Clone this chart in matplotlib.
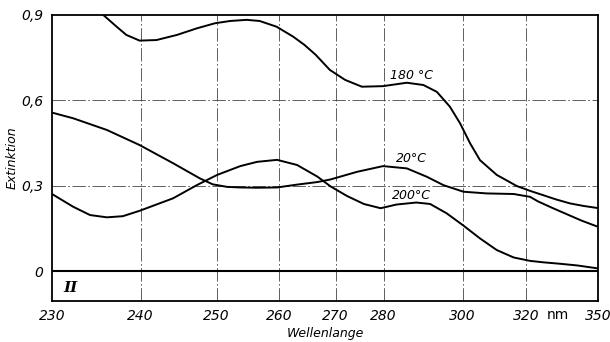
import numpy as np
import matplotlib
matplotlib.use("Agg")
import matplotlib.pyplot as plt
from matplotlib.ticker import NullLocator

# wavelength ticks (nm) and where they sit along the (non-linear) printed axis
tick_nm = [230, 240, 250, 260, 270, 280, 300, 320, 350]
tick_labels = ["230", "240", "250", "260", "270", "280", "300", "320", "350"]
axis_pos = [52, 140.5, 216.5, 279, 335.5, 383.5, 462.5, 526, 598]

# 180 °C
wl_180 = [235.8, 237.3, 238.4, 239.9, 242.1, 244.8, 247.4, 249.8, 252.2, 254.8,
          256.9, 259.6, 262.5, 264.5, 266.5, 269.0, 272.0, 275.5, 279.9, 285.9,
          290.1, 293.5, 296.8, 299.4, 302.4, 305.5, 310.8, 317.1, 321.7, 327.1,
          332.5, 338.3, 344.0, 349.6]
ext_180 = [0.900, 0.859, 0.830, 0.810, 0.812, 0.830, 0.853, 0.871, 0.879, 0.883,
           0.879, 0.859, 0.824, 0.795, 0.760, 0.707, 0.672, 0.648, 0.650, 0.662,
           0.654, 0.630, 0.578, 0.519, 0.449, 0.390, 0.338, 0.299, 0.282, 0.267,
           0.252, 0.238, 0.229, 0.222]

# 20 °C
wl_20 = [230.0, 232.4, 236.2, 239.9, 244.3, 247.8, 249.5, 251.7, 253.8, 256.5,
         259.7, 263.2, 266.8, 269.1, 274.5, 279.9, 285.9, 290.9, 295.2, 300.3,
         307.7, 316.1, 321.7, 325.0, 331.0, 337.0, 343.0, 349.6]
ext_20 = [0.557, 0.537, 0.496, 0.443, 0.379, 0.326, 0.305, 0.296, 0.294, 0.293,
          0.294, 0.304, 0.313, 0.322, 0.349, 0.369, 0.361, 0.332, 0.302, 0.279,
          0.273, 0.271, 0.261, 0.245, 0.222, 0.200, 0.178, 0.157]

# 200 °C
wl_200 = [230.0, 232.4, 234.3, 236.2, 238.0, 239.9, 244.3, 247.4, 250.1, 253.8,
          256.5, 259.7, 263.2, 266.8, 269.1, 272.4, 275.9, 279.4, 283.3, 288.3,
          291.8, 296.0, 300.3, 305.5, 310.8, 316.1, 321.7, 327.1, 334.0, 341.3, 349.6]
ext_200 = [0.271, 0.226, 0.197, 0.189, 0.193, 0.212, 0.256, 0.302, 0.338, 0.369,
           0.384, 0.391, 0.373, 0.332, 0.298, 0.264, 0.236, 0.221, 0.234, 0.241,
           0.236, 0.203, 0.160, 0.115, 0.074, 0.048, 0.036, 0.031, 0.026, 0.020, 0.010]

y_ticks = [0, 0.3, 0.6, 0.9]
y_labels = ["0", "0,3", "0,6", "0,9"]

curve_labels = ["180 °C", "20°C", "200°C"]
label_nm = 287.2
label_ext = [0.689, 0.397, 0.267]


def fwd(x):
    return np.interp(x, tick_nm, axis_pos)


def inv(p):
    return np.interp(p, axis_pos, tick_nm)


fig = plt.figure(figsize=(6.1, 3.42), dpi=100)
ax = fig.add_axes([52 / 610, 1 - 301 / 342, (598 - 52) / 610, (301 - 15) / 342])
ax.set_xscale("function", functions=(fwd, inv))
ax.set_xlim(230, 350)
ax.set_ylim(-0.105, 0.9)

grid_style = dict(color="#444444", lw=0.6, ls=(0, (16, 3, 2, 3)), zorder=1)
for x in tick_nm[1:-1]:
    ax.axvline(x, **grid_style)
for y in [0.3, 0.6]:
    ax.axhline(y, **grid_style)
ax.axhline(0, color="black", lw=1.5, zorder=2)

for wl, ext in [(wl_180, ext_180), (wl_20, ext_20), (wl_200, ext_200)]:
    ax.plot(wl, ext, color="black", lw=1.4, solid_joinstyle="round",
            solid_capstyle="round", zorder=3)

ax.set_xticks(tick_nm)
ax.set_xticklabels(tick_labels, fontstyle="italic", fontsize=10)
ax.xaxis.set_minor_locator(NullLocator())
ax.set_yticks(y_ticks)
ax.set_yticklabels(y_labels, fontstyle="italic", fontsize=10)
ax.tick_params(length=0, pad=6)

for s in ax.spines.values():
    s.set_linewidth(1.3)

ax.set_xlabel("Wellenlange", fontstyle="italic", fontsize=9, labelpad=3)
ax.set_ylabel("Extinktion", fontstyle="italic", fontsize=9, labelpad=2)

ax.text(0.927, -0.025, "nm", transform=ax.transAxes, ha="center", va="top", fontsize=10)
ax.text(0.02, 0.045, "II", transform=ax.transAxes, ha="left", va="center",
        fontsize=11, family="DejaVu Serif", fontweight="bold", fontstyle="italic")

for txt, y in zip(curve_labels, label_ext):
    ax.text(label_nm, y, txt, ha="center", va="center", fontsize=9,
            fontstyle="italic", zorder=4)

fig.savefig("out.png", dpi=100)
